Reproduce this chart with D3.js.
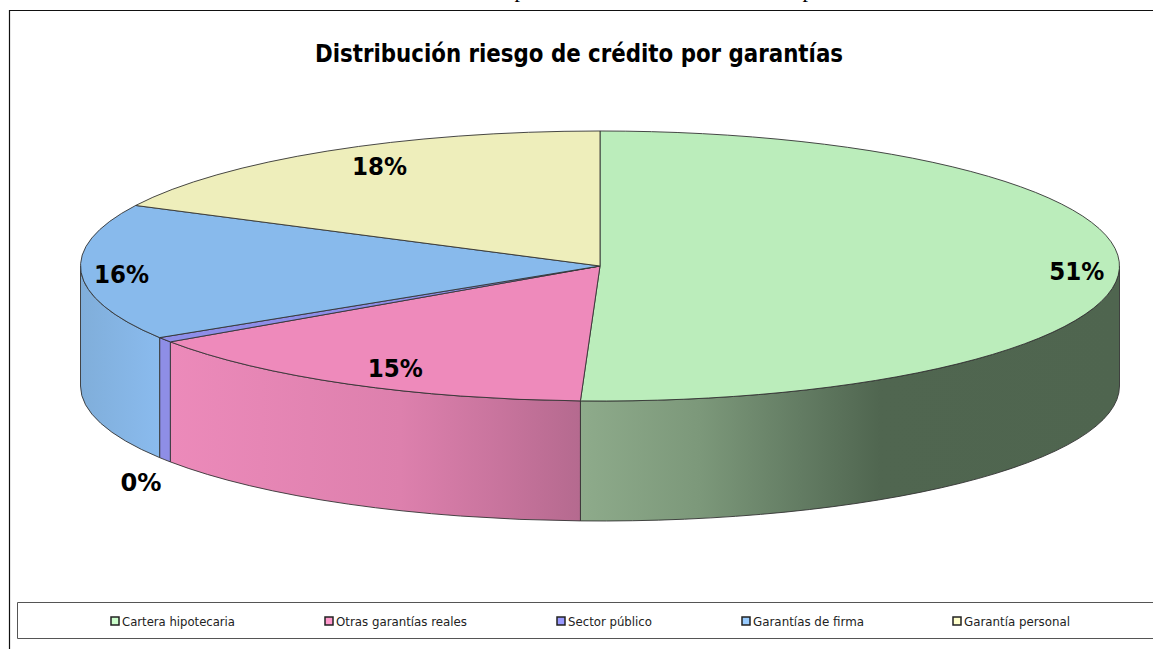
<!DOCTYPE html>
<html><head><meta charset="utf-8">
<script src="https://cdn.jsdelivr.net/npm/d3@7/dist/d3.min.js"></script>
<style>html,body{margin:0;padding:0;background:#fff;overflow:hidden}svg{display:block}</style>
</head><body><div id="c"></div>
<script>
const categories = ["Cartera hipotecaria","Otras garantías reales","Sector público","Garantías de firma","Garantía personal"];
const values = [50.6,14.9,0.6,16.3,17.6];
const valueLabels = ["51%","15%","0%","16%","18%"];
const topColors = ["#bbedbb","#ee8abb","#8e8ee8","#88baec","#eeeebb"];
const legendColors = ["#ccffcc","#ff99cc","#9999ff","#99ccff","#ffffcc"];

const W=1153,H=649, cx=600, cy=266, rx=519.5, ry=135, depth=120;
const svg=d3.select("#c").append("svg").attr("width",W).attr("height",H);
const defs=svg.append("defs");
const line="#333";

// page fragments and frame
svg.selectAll("text.frag").data([520,808]).join("text").attr("class","frag")
  .attr("x",d=>d).attr("y",-3).attr("text-anchor","middle")
  .attr("font-family","Liberation Serif").attr("font-size",22).text("p");
svg.append("path").attr("d",`M9.5,${H}V10.5H${W}`).attr("fill","none").attr("stroke","#111").attr("stroke-width",1.2);

svg.append("text").attr("x",579).attr("y",62).attr("text-anchor","middle")
  .attr("font-family","DejaVu Sans Condensed, DejaVu Sans").attr("font-weight","bold").attr("font-size",25)
  .attr("textLength",528).attr("lengthAdjust","spacingAndGlyphs")
  .text("Distribución riesgo de crédito por garantías");

const arcs=d3.pie().sort(null).value(d=>d)(values);
const px=a=>cx+rx*Math.sin(a), py=a=>cy-ry*Math.cos(a);

// side-wall shading, in chart x
const sideStops=[
  [[580,"#8eab8b"],[700,"#7c987a"],[800,"#637c63"],[880,"#506650"],[1119,"#4f654f"]],
  [[170,"#ec8aba"],[400,"#dd80ad"],[500,"#c8749d"],[580,"#b56a8f"]],
  [[160,"#8e8ee6"],[170,"#8e8ee6"]],
  [[81,"#80aeda"],[160,"#8abbee"]],
  [[0,"#eeeebb"],[1,"#eeeebb"]]
];
sideStops.forEach((st,i)=>{
  const g=defs.append("linearGradient").attr("id","side"+i).attr("gradientUnits","userSpaceOnUse")
    .attr("x1",st[0][0]).attr("x2",st[st.length-1][0]).attr("y1",0).attr("y2",0);
  st.forEach(s=>g.append("stop").attr("offset",(s[0]-st[0][0])/(st[st.length-1][0]-st[0][0])).attr("stop-color",s[1]));
});

// side walls: only the part of each slice on the front half of the ellipse
const sideG=svg.append("g");
arcs.forEach((d,i)=>{
  const a0=Math.max(d.startAngle,Math.PI/2), a1=Math.min(d.endAngle,3*Math.PI/2);
  if(a1<=a0) return;
  const p=`M${px(a0)},${py(a0)}A${rx},${ry} 0 0 1 ${px(a1)},${py(a1)}`+
          `V${py(a1)+depth}A${rx},${ry} 0 0 0 ${px(a0)},${py(a0)+depth}Z`;
  sideG.append("path").attr("d",p).attr("fill",`url(#side${i})`).attr("stroke",line).attr("stroke-width",0.9).attr("stroke-linejoin","round");
});

// top face
const arc=d3.arc().innerRadius(0).outerRadius(rx);
svg.append("g").attr("transform",`translate(${cx},${cy}) scale(1,${ry/rx})`)
  .selectAll("path").data(arcs).join("path")
  .attr("d",arc).attr("fill",(d,i)=>topColors[i])
  .attr("stroke",line).attr("stroke-width",0.9).attr("vector-effect","non-scaling-stroke").attr("stroke-linejoin","round");

// value labels placed along each slice's mid-angle
const labelRadius=[0.918,0.813,1.055,0.922,0.808], labelDrop=[12,15,0,11,2];
svg.selectAll("text.val").data(arcs).join("text").attr("class","val")
  .attr("x",(d,i)=>cx+rx*labelRadius[i]*Math.sin((d.startAngle+d.endAngle)/2))
  .attr("y",(d,i)=>{const m=(d.startAngle+d.endAngle)/2;return cy-ry*labelRadius[i]*Math.cos(m)+(i===2?depth+27:labelDrop[i]);})
  .attr("text-anchor","middle").attr("font-family","DejaVu Sans Condensed, DejaVu Sans").attr("font-weight","bold").attr("font-size",24)
  .attr("textLength",(d,i)=>i===2?41:55).attr("lengthAdjust","spacingAndGlyphs")
  .text((d,i)=>valueLabels[i]);

// legend
svg.append("path").attr("d",`M${W},602.5H17.5V638.5H${W}`).attr("fill","#fff").attr("stroke","#555").attr("stroke-width",1);
const legendX=d3.scaleOrdinal().domain(categories).range([111,325,557,742,953]);
const legendW=d3.scaleOrdinal().domain(categories).range([113,131,84,111,106]);
const lg=svg.selectAll("g.lg").data(categories).join("g").attr("class","lg").attr("transform",d=>`translate(${legendX(d)},621)`);
lg.append("rect").attr("x",0).attr("y",-4).attr("width",8).attr("height",8)
  .attr("fill",(d,i)=>legendColors[i]).attr("stroke","#222").attr("stroke-width",1.5);
lg.append("text").attr("x",11).attr("y",4.5).attr("font-family","DejaVu Sans Condensed, DejaVu Sans").attr("font-size",13).attr("fill","#222")
  .attr("textLength",d=>legendW(d)).attr("lengthAdjust","spacingAndGlyphs").text(d=>d);
</script></body></html>
